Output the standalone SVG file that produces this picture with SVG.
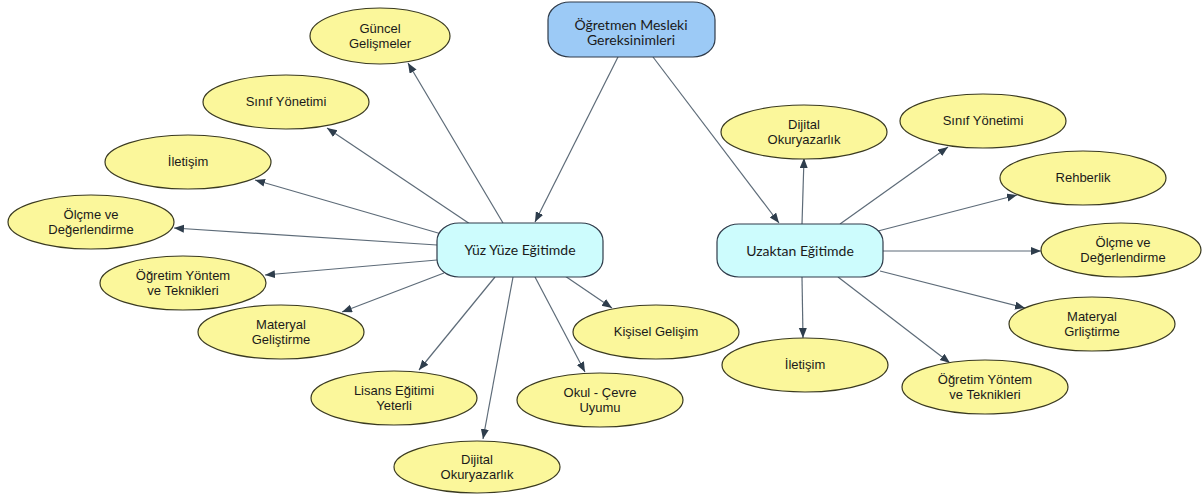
<svg xmlns="http://www.w3.org/2000/svg" width="1203" height="495" viewBox="0 0 1203 495">
<defs>
<marker id="ah" markerUnits="userSpaceOnUse" markerWidth="12" markerHeight="10" refX="10" refY="4" orient="auto">
<path d="M0,0 L10,4 L0,8 Z" fill="#2e3d4c"/>
</marker>
<style>
.bg{fill:#ffffff}
.el{fill:#fbf79b;stroke:#3a3a20;stroke-width:1.2}
.top{fill:#9ccaf6;stroke:#2f3b4a;stroke-width:1.2}
.mid{fill:#cdfcfd;stroke:#2f3b4a;stroke-width:1.2}
.t{font-family:"Liberation Sans",Arial,sans-serif;font-size:13px;fill:#1a1a1a;text-anchor:middle}
.tb{font-family:Lato,"Open Sans",sans-serif;font-size:14px;fill:#1a1a1a;text-anchor:middle}
.c line{stroke:#5d6b78;stroke-width:1.2;marker-end:url(#ah)}
</style>
</defs>
<rect class="bg" x="0" y="0" width="1203" height="495"/>
<g id="connectors" class="c">
<line x1="618" y1="57" x2="535" y2="222"/>
<line x1="653" y1="57" x2="779" y2="223"/>
<line x1="503" y1="223" x2="408" y2="63"/>
<line x1="470" y1="224" x2="327" y2="128"/>
<line x1="445" y1="235" x2="255" y2="180"/>
<line x1="437" y1="245" x2="174" y2="228"/>
<line x1="437" y1="260" x2="265" y2="275"/>
<line x1="444" y1="273" x2="342" y2="312"/>
<line x1="495" y1="277" x2="419" y2="370"/>
<line x1="513" y1="277" x2="483" y2="439"/>
<line x1="535" y1="277" x2="585" y2="372"/>
<line x1="565" y1="276" x2="612" y2="308"/>
<line x1="802" y1="224" x2="804" y2="158"/>
<line x1="840" y1="224" x2="948" y2="147"/>
<line x1="878" y1="231" x2="1017" y2="195"/>
<line x1="883" y1="251" x2="1041" y2="251"/>
<line x1="880" y1="271" x2="1025" y2="308"/>
<line x1="838" y1="277" x2="950" y2="363"/>
<line x1="802" y1="277" x2="803" y2="338"/>
</g>
<g id="n-top">
<rect class="top" x="548" y="2" width="167" height="55" rx="22" ry="18"/>
<text class="tb" x="631" y="30">Öğretmen Mesleki</text>
<text class="tb" x="631" y="45">Gereksinimleri</text>
</g>
<g id="n-yuz">
<rect class="mid" x="437" y="223" width="166" height="54" rx="22" ry="18"/>
<text class="tb" x="520" y="255">Yüz Yüze Eğitimde</text>
</g>
<g id="n-uzak">
<rect class="mid" x="717" y="224" width="166" height="53" rx="22" ry="18"/>
<text class="tb" x="800" y="256">Uzaktan Eğitimde</text>
</g>
<g id="n-guncel">
<ellipse class="el" cx="380" cy="36" rx="70" ry="28"/>
<text class="t" x="380" y="33">Güncel</text>
<text class="t" x="380" y="48">Gelişmeler</text>
</g>
<g id="n-sinif-l">
<ellipse class="el" cx="286" cy="102" rx="83" ry="27"/>
<text class="t" x="286" y="106">Sınıf Yönetimi</text>
</g>
<g id="n-iletisim-l">
<ellipse class="el" cx="188" cy="162" rx="83" ry="27"/>
<text class="t" x="188" y="166">İletişim</text>
</g>
<g id="n-olcme-l">
<ellipse class="el" cx="91" cy="222" rx="83" ry="27"/>
<text class="t" x="91" y="219">Ölçme ve</text>
<text class="t" x="91" y="234">Değerlendirme</text>
</g>
<g id="n-ogretim-l">
<ellipse class="el" cx="183" cy="283" rx="83" ry="27"/>
<text class="t" x="183" y="280">Öğretim Yöntem</text>
<text class="t" x="183" y="295">ve Teknikleri</text>
</g>
<g id="n-materyal-l">
<ellipse class="el" cx="281" cy="332" rx="83" ry="27"/>
<text class="t" x="281" y="329">Materyal</text>
<text class="t" x="281" y="344">Geliştirme</text>
</g>
<g id="n-lisans">
<ellipse class="el" cx="394" cy="398" rx="83" ry="27"/>
<text class="t" x="394" y="395">Lisans Eğitimi</text>
<text class="t" x="394" y="410">Yeterli</text>
</g>
<g id="n-dijital-l">
<ellipse class="el" cx="477" cy="467" rx="83" ry="26"/>
<text class="t" x="477" y="464">Dijital</text>
<text class="t" x="477" y="479">Okuryazarlık</text>
</g>
<g id="n-okul">
<ellipse class="el" cx="600" cy="400" rx="83" ry="27"/>
<text class="t" x="600" y="397">Okul - Çevre</text>
<text class="t" x="600" y="412">Uyumu</text>
</g>
<g id="n-kisisel">
<ellipse class="el" cx="656" cy="332" rx="83" ry="27"/>
<text class="t" x="656" y="336">Kişisel Gelişim</text>
</g>
<g id="n-dijital-r">
<ellipse class="el" cx="804" cy="132" rx="83" ry="27"/>
<text class="t" x="804" y="129">Dijital</text>
<text class="t" x="804" y="144">Okuryazarlık</text>
</g>
<g id="n-sinif-r">
<ellipse class="el" cx="983" cy="121" rx="83" ry="27"/>
<text class="t" x="983" y="125">Sınıf Yönetimi</text>
</g>
<g id="n-rehberlik">
<ellipse class="el" cx="1083" cy="178" rx="83" ry="27"/>
<text class="t" x="1083" y="182">Rehberlik</text>
</g>
<g id="n-olcme-r">
<ellipse class="el" cx="1121" cy="250" rx="80" ry="27"/>
<text class="t" x="1123" y="247">Ölçme ve</text>
<text class="t" x="1123" y="262">Değerlendirme</text>
</g>
<g id="n-materyal-r">
<ellipse class="el" cx="1092" cy="324" rx="83" ry="27"/>
<text class="t" x="1092" y="321">Materyal</text>
<text class="t" x="1092" y="336">Grliştirme</text>
</g>
<g id="n-ogretim-r">
<ellipse class="el" cx="985" cy="387" rx="83" ry="27"/>
<text class="t" x="985" y="384">Öğretim Yöntem</text>
<text class="t" x="985" y="399">ve Teknikleri</text>
</g>
<g id="n-iletisim-r">
<ellipse class="el" cx="805" cy="365" rx="83" ry="27"/>
<text class="t" x="805" y="369">İletişim</text>
</g>
</svg>
